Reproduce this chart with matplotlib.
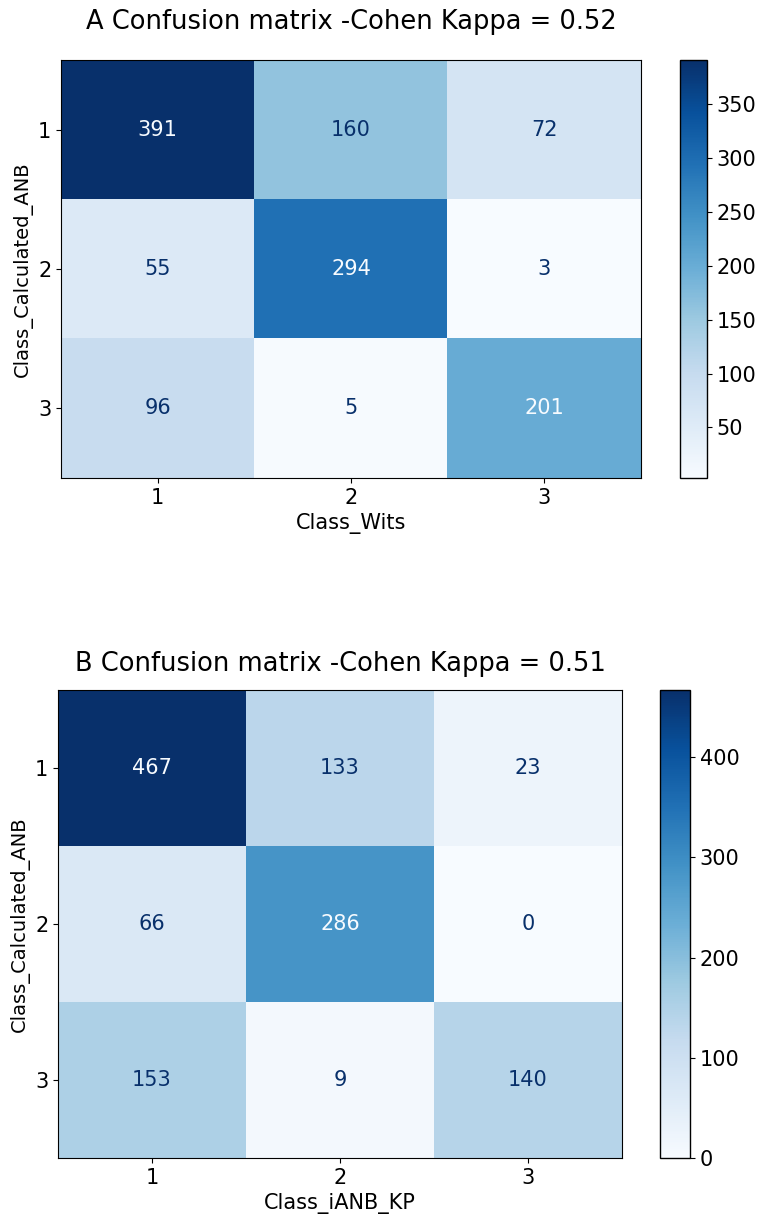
import numpy as np
import matplotlib.pyplot as plt

# confusion matrices
labels = ['1', '2', '3']
cm_wits = np.array([[391, 160, 72],
                    [55, 294, 3],
                    [96, 5, 201]])
cm_ianb = np.array([[467, 133, 23],
                    [66, 286, 0],
                    [153, 9, 140]])
titles = ['A Confusion matrix -Cohen Kappa = 0.52',
          'B Confusion matrix -Cohen Kappa = 0.51']
xlabels = ['Class_Wits', 'Class_iANB_KP']
ylabel = 'Class_Calculated_ANB'

W, H = 762, 1220
fig = plt.figure(figsize=(W / 100, H / 100), dpi=100)


def px(x0, y0, x1, y1):
    return [x0 / W, 1 - y1 / H, (x1 - x0) / W, (y1 - y0) / H]


def draw_cm(ax_box, cb_box, cm, title, xlabel, pad):
    ax = fig.add_axes(px(*ax_box))
    cax = fig.add_axes(px(*cb_box))
    cmap = plt.get_cmap('Blues')
    im = ax.imshow(cm, cmap=cmap, aspect='auto', interpolation='nearest')
    lo, hi = cm.min(), cm.max()
    thresh = (lo + hi) / 2.0
    for i in range(cm.shape[0]):
        for j in range(cm.shape[1]):
            col = cmap(0) if cm[i, j] > thresh else cmap(256)
            ax.text(j, i, str(cm[i, j]), ha='center', va='center',
                    color=col, fontsize=15)
    ax.set_xticks(range(len(labels)))
    ax.set_xticklabels(labels)
    ax.set_yticks(range(len(labels)))
    ax.set_yticklabels(labels)
    ax.tick_params(labelsize=15)
    ax.set_xlabel(xlabel, fontsize=15)
    ax.set_ylabel(ylabel, fontsize=14)
    ax.set_title(title, fontsize=18.5, pad=pad)
    cb = fig.colorbar(im, cax=cax)
    cb.ax.tick_params(labelsize=15)
    cb.outline.set_linewidth(1)
    return ax


draw_cm((61, 60, 641, 478), (680, 60, 707, 478), cm_wits, titles[0], xlabels[0], 22)
draw_cm((58, 690, 622, 1158), (660, 690, 690, 1158), cm_ianb, titles[1], xlabels[1], 14)

fig.savefig('out.png', dpi=100)
